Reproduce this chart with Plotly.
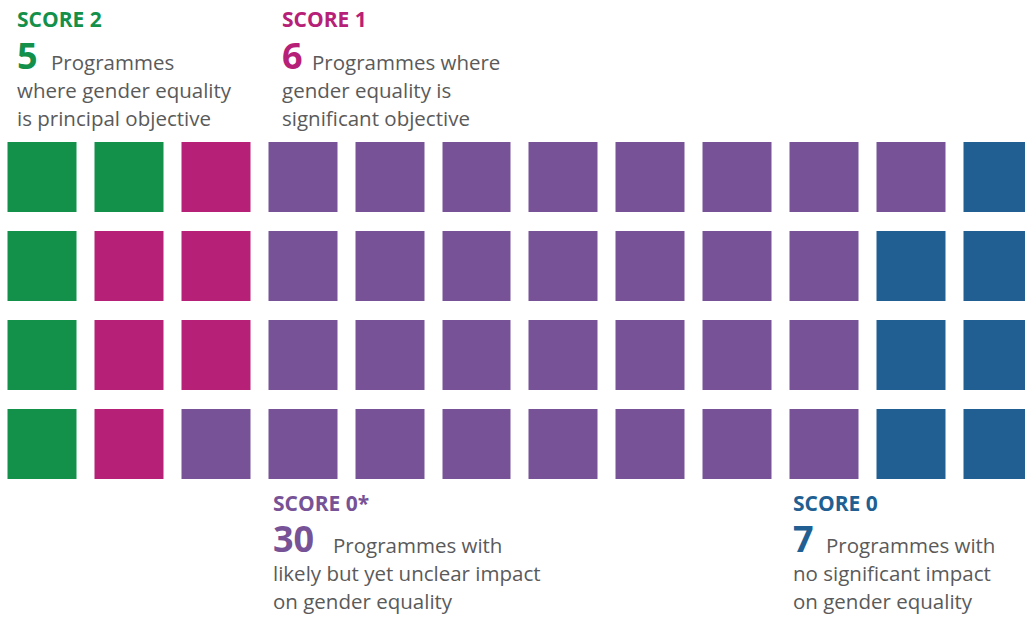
import plotly.graph_objects as go

# categories and counts of programmes
scores = ['SCORE 2', 'SCORE 1', 'SCORE 0*', 'SCORE 0']
counts = [5, 6, 30, 7]
colors = ['#13904a', '#b72077', '#775296', '#215f93']
first_line = ['Programmes', 'Programmes where', 'Programmes with', 'Programmes with']
other_lines = [
    ['where gender equality', 'is principal objective'],
    ['gender equality is', 'significant objective'],
    ['likely but yet unclear impact', 'on gender equality'],
    ['no significant impact', 'on gender equality'],
]

n_rows = 4
n_cols = 12

# fill the grid column by column, top to bottom
flat = []
for i, c in enumerate(counts):
    flat += [i] * c
z = [[None] * n_cols for _ in range(n_rows)]
hover = [[''] * n_cols for _ in range(n_rows)]
for k, v in enumerate(flat):
    col = k // n_rows
    row = k % n_rows
    z[row][col] = v
    hover[row][col] = scores[v]

colorscale = [
    [0, colors[0]], [1 / 6, colors[0]],
    [1 / 6, colors[1]], [0.5, colors[1]],
    [0.5, colors[2]], [5 / 6, colors[2]],
    [5 / 6, colors[3]], [1, colors[3]],
]

W, H = 1025, 617

fig = go.Figure(go.Heatmap(
    z=z,
    x=list(range(n_cols)),
    y=list(range(n_rows)),
    text=hover,
    hovertemplate='%{text}<extra></extra>',
    colorscale=colorscale,
    zmin=0, zmax=3,
    showscale=False,
    xgap=18, ygap=19,
))

# pixel geometry of the grid
col_pitch, col0 = 86.9, 41.95
row_pitch, row0 = 88.9, 177.45

fig.update_xaxes(range=[-col0 / col_pitch, (W - col0) / col_pitch],
                 visible=False, fixedrange=True)
fig.update_yaxes(range=[(H - row0) / row_pitch, -row0 / row_pitch],
                 visible=False, fixedrange=True)

FONT = 'Open Sans'
GREY = '#5a5a5a'
HEAD_FS, NUM_FS, BODY_FS = 21, 36, 20.5

# (x of label, x of first text line, heading baseline, number baseline, line spacing)
blocks = [
    (16, 50, 26.7, 69.5, 28),
    (281, 311, 26.7, 69.5, 28),
    (272, 332, 511.5, 552.5, 28),
    (792, 825, 511.5, 552.5, 28),
]


def add_text(x, baseline, text, size, color, bold=False):
    fig.add_annotation(
        x=x / W, y=1 - (baseline - 0.388 * size) / H,
        xref='paper', yref='paper', xanchor='left', yanchor='middle',
        text=f'<b>{text}</b>' if bold else text,
        showarrow=False, borderpad=0,
        font=dict(family=FONT, size=size, color=color),
    )


for i, (x0, x1, hb, nb, ls) in enumerate(blocks):
    add_text(x0, hb, scores[i], HEAD_FS, colors[i], bold=True)
    add_text(x0, nb, str(counts[i]), NUM_FS, colors[i], bold=True)
    add_text(x1, nb, first_line[i], BODY_FS, GREY)
    for j, line in enumerate(other_lines[i]):
        add_text(x0, nb + ls * (j + 1), line, BODY_FS, GREY)

fig.update_layout(
    width=W, height=H,
    margin=dict(l=0, r=0, t=0, b=0),
    paper_bgcolor='white',
    plot_bgcolor='white',
)

# drop the default 8px body margin so the figure fills the window
fig.write_html('out.html', config={'displayModeBar': False},
               post_script="document.body.style.margin = '0';")
